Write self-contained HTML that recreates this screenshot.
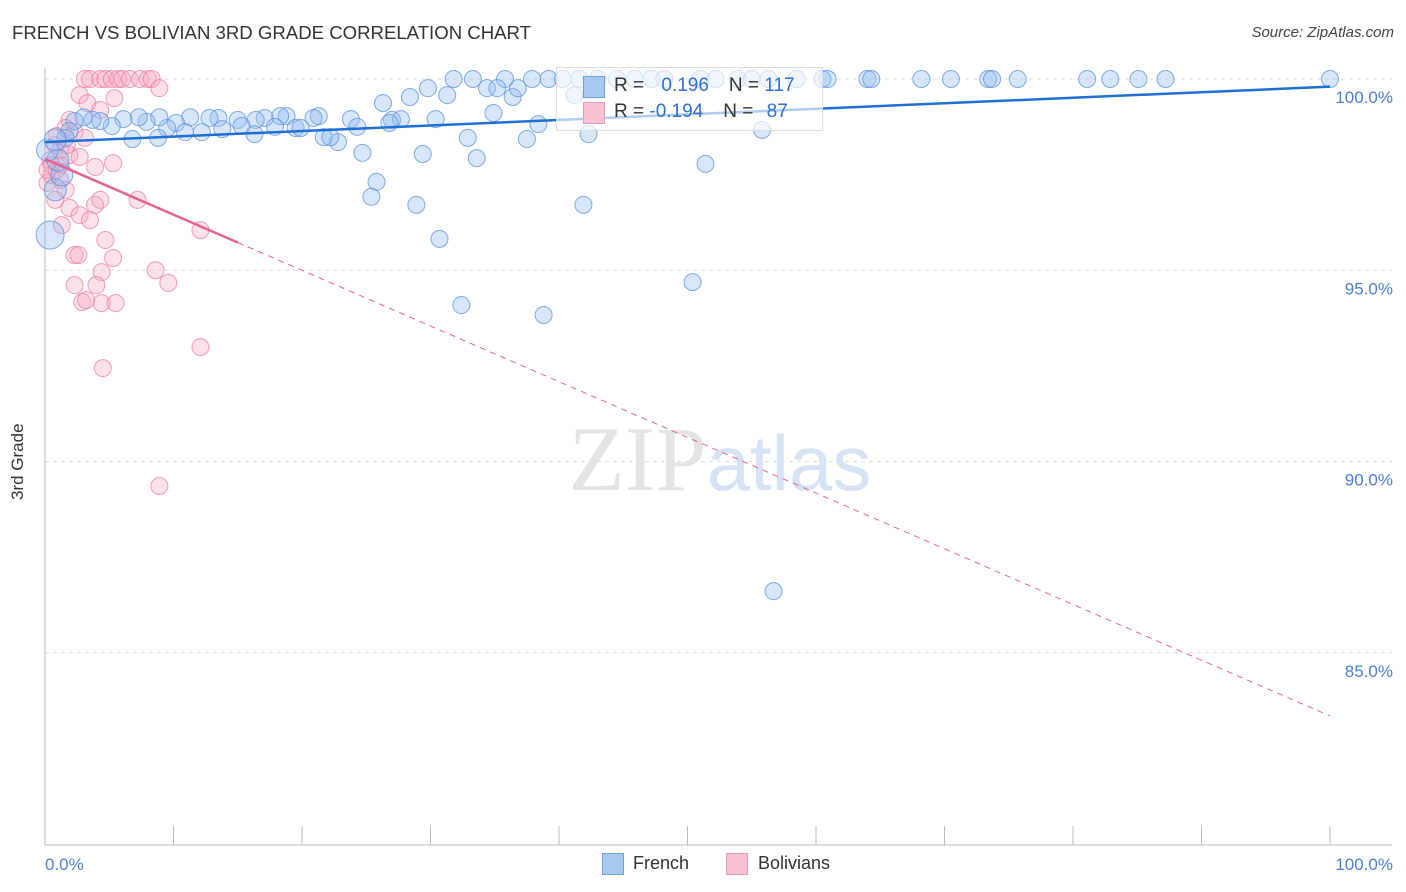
<!DOCTYPE html>
<html><head><meta charset="utf-8"><style>
body{margin:0;background:#fff;font-family:"Liberation Sans",sans-serif;}
#wrap{position:relative;width:1406px;height:892px;overflow:hidden;}
.t{position:absolute;white-space:nowrap;}
</style></head><body>
<div id="wrap">
<div class="t" style="left:12px;top:22px;font-size:18.6px;color:#333;">FRENCH VS BOLIVIAN 3RD GRADE CORRELATION CHART</div>
<div class="t" style="right:12px;top:24px;font-size:15px;color:#444;font-style:italic;">Source: ZipAtlas.com</div>
<div class="t" style="left:8px;top:500px;font-size:17px;color:#333;transform:rotate(-90deg);transform-origin:0 0;">3rd Grade</div>
<svg id="svg" width="1406" height="892" style="position:absolute;left:0;top:0"></svg>
</div>
<script>
const yTicks=[100,95,90,85];
const xTickLabels=["0.0%","100.0%"];
const frenchX=[31.8,33.3,35.8,37.9,39.2,40.3,41.6,43.0,44.5,45.9,47.2,48.2,51.0,52.2,53.9,55.0,56.3,58.5,60.5,60.9,64.0,64.3,68.2,70.5,73.4,73.7,75.7,81.1,82.9,85.1,87.2,100,
26.3,28.4,29.8,31.3,34.4,35.2,36.4,36.8,41.2,34.9,30.4,27.7,27.0,23.8,21.3,20.9,18.8,18.3,17.1,16.4,15.0,13.5,12.8,11.3,10.2,9.5,8.9,7.9,7.3,6.1,5.2,4.3,3.7,3.0,2.3,1.9,1.6,
6.8,8.8,10.9,12.2,13.8,15.3,16.3,17.9,19.5,19.9,21.7,22.8,24.3,22.2,26.8,32.9,37.5,38.4,42.3,24.7,29.4,33.6,25.8,25.4,28.9,30.7,32.4,38.8,41.9,51.4,50.4,55.8,56.7,0.4,0.8,1.3,1.0,0.2,0.8];
const frenchY=[100,100,100,100,100,100,100,100,100,100,100,100,100,100,100,100,100,100,100,100,100,100,100,100,100,100,100,100,100,100,100,100,
99.37,99.53,99.76,99.58,99.76,99.76,99.53,99.76,99.58,99.11,98.95,98.95,98.93,98.95,99.03,98.98,99.03,99.03,98.98,98.93,98.93,98.98,98.98,99.0,98.85,98.72,99.0,98.88,99.0,98.95,98.77,98.9,98.93,99.0,98.9,98.64,98.46,
98.43,98.46,98.61,98.61,98.69,98.77,98.56,98.75,98.72,98.72,98.48,98.35,98.75,98.48,98.85,98.46,98.43,98.82,98.56,98.07,98.04,97.93,97.31,96.92,96.71,95.82,94.09,93.83,96.71,97.78,94.69,98.67,86.61,95.92,97.1,97.49,97.88,98.14,98.41];
const bolX=[3.1,3.5,4.3,4.7,5.2,5.7,6.0,6.6,7.4,8.0,8.3,8.9,2.7,5.4,3.3,4.3,1.9,1.6,2.3,3.1,0.8,0.4,1.2,1.9,2.7,0.5,1.2,1.6,3.9,5.3,0.2,0.8,1.9,2.7,3.5,3.9,4.3,7.2,1.3,4.7,2.3,2.6,5.3,4.4,4.0,2.3,8.6,9.6,2.9,4.4,5.5,3.2,12.1,12.1,4.5,8.9,0.5,0.9,0.2,1.2,0.9,1.7];
const bolY=[100,100,100,100,100,100,100,100,100,100,100,99.76,99.58,99.5,99.37,99.19,98.93,98.72,98.61,98.46,98.27,97.88,97.75,98.01,97.96,97.49,97.36,97.1,97.7,97.8,97.28,96.84,96.63,96.44,96.31,96.71,96.84,96.84,96.18,95.79,95.4,95.4,95.32,94.95,94.61,94.61,95.0,94.67,94.17,94.14,94.14,94.22,96.05,92.99,92.44,89.36,97.75,97.62,97.62,98.14,98.51,98.27];
const frenchTrend=[98.35,99.8];
const bolTrend=[97.91,83.35];
const X0=45,X1=1330,Y0=79,Y1=845;
const xs=v=>X0+(X1-X0)*v/100;
const ys=v=>Y0+(100-v)*38.25;
const svg=document.getElementById('svg');
const NS='http://www.w3.org/2000/svg';
function mk(tag,attrs){const e=document.createElementNS(NS,tag);for(const k in attrs)e.setAttribute(k,attrs[k]);svg.appendChild(e);return e;}
yTicks.forEach(t=>{
 const g=mk('line',{x1:X0,x2:1392,y1:ys(t),y2:ys(t),stroke:'#ddd','stroke-dasharray':'4,4'});
 
 
 const tx=mk('text',{x:1393,y:ys(t)+24,'text-anchor':'end','font-size':'17',fill:'#4a7fd4','font-family':'Liberation Sans'});
 tx.textContent=t.toFixed(1)+'%';
 
 
});
const ax=mk('line',{x1:X0,x2:X0,y1:68,y2:Y1,stroke:'#bbb'});


const bx=mk('line',{x1:X0,x2:1392,y1:Y1,y2:Y1,stroke:'#bbb'});


for(let i=0;i<=10;i++){const l=mk('line',{x1:xs(i*10),x2:xs(i*10),y1:826,y2:Y1,stroke:'#bbb'});
 
 }
const wm=mk('text',{x:720,y:490,'text-anchor':'middle','font-size':'92','font-family':'Liberation Serif',fill:'#e4e4e4'});
wm.innerHTML='ZIP<tspan fill="#d5e3f5" font-family="Liberation Sans" font-size="78">atlas</tspan>';


[[xTickLabels[0],45,'start'],[xTickLabels[1],1393,'end']].forEach(a=>{const t=mk('text',{x:a[1],y:870,'text-anchor':a[2],'font-size':'17',fill:'#4a7fd4','font-family':'Liberation Sans'});t.textContent=a[0];
 
 });
bolX.forEach((x,i)=>{const c=mk('circle',{cx:xs(x),cy:ys(bolY[i]),r:8.5,fill:'rgba(246,170,196,0.35)',stroke:'rgba(232,120,160,0.7)','stroke-width':1});
 
 });
frenchX.forEach((x,i)=>{const big=x<1.5&&frenchY[i]<98.5;const c=mk('circle',{cx:xs(x),cy:ys(frenchY[i]),r:(frenchY[i]<96&&x<1)?14:(big?11:8.5),fill:'rgba(150,190,240,0.38)',stroke:'rgba(90,145,220,0.75)','stroke-width':1});
 
 });
const ft=mk('line',{x1:xs(0),y1:ys(frenchTrend[0]),x2:xs(100),y2:ys(frenchTrend[1]),stroke:'#1f6fd6','stroke-width':2.5});


const bAt=x=>bolTrend[0]+(bolTrend[1]-bolTrend[0])*x/100;
const bt1=mk('line',{x1:xs(0),y1:ys(bAt(0)),x2:xs(15),y2:ys(bAt(15)),stroke:'#e8628e','stroke-width':2.5});


const bt2=mk('line',{x1:xs(15),y1:ys(bAt(15)),x2:xs(100),y2:ys(bAt(100)),stroke:'#e8628e','stroke-width':1,'stroke-dasharray':'6,5'});


</script>
<div class="t" style="left:556px;top:67px;width:265px;height:62px;border:1px solid #ddd;background:rgba(255,255,255,0.65);">
 <div class="t" style="left:26px;top:8px;width:20px;height:20px;background:#a9c8f0;border:1px solid #6a9fe0;"></div>
 <div class="t" style="left:57px;top:7px;font-size:19px;color:#333;">R = <span style="color:#2f6fd0;margin-left:12px">0.196</span><span style="margin-left:20px">N = </span><span style="color:#2f6fd0">117</span></div>
 <div class="t" style="left:26px;top:34px;width:20px;height:20px;background:#f7c3d4;border:1px solid #ea9ab6;"></div>
 <div class="t" style="left:57px;top:33px;font-size:19px;color:#333;">R = <span style="color:#2f6fd0">-0.194</span><span style="margin-left:20px">N = </span><span style="color:#2f6fd0;margin-left:8px">87</span></div>
</div>
<div class="t" style="left:602px;top:853px;width:20px;height:20px;background:#a9c8f0;border:1px solid #6a9fe0;"></div>
<div class="t" style="left:633px;top:853px;font-size:18px;color:#333;">French</div>
<div class="t" style="left:726px;top:853px;width:20px;height:20px;background:#f7c3d4;border:1px solid #ea9ab6;"></div>
<div class="t" style="left:758px;top:853px;font-size:18px;color:#333;">Bolivians</div>
</body></html>
